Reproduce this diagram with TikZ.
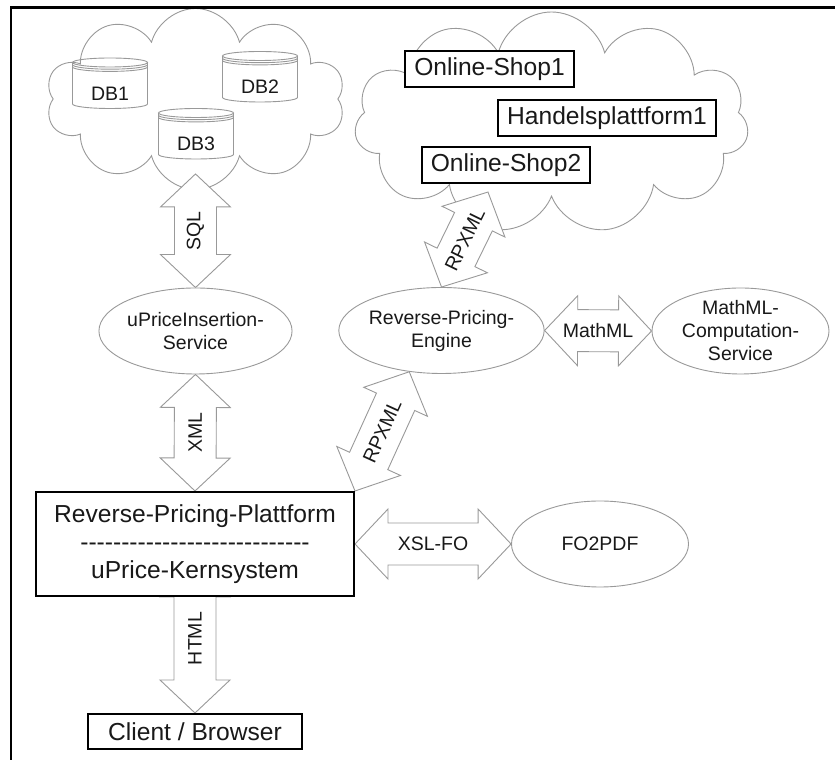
\documentclass[tikz,border=0pt]{standalone}
\usepackage{fontspec}
\setmainfont{Liberation Sans}
\usetikzlibrary{shapes.geometric, shapes.symbols, calc, backgrounds}
\definecolor{LineGray}{rgb}{0.6, 0.6, 0.6}
\definecolor{InkBlack}{rgb}{0.1, 0.1, 0.1}
\pgfdeclarelayer{cloudlayer}
\pgfdeclarelayer{arrowlayer}
\pgfsetlayers{cloudlayer,arrowlayer,main}
\newcommand{\dbase}[4]{% name, x, y, label
    \node[dbtext] (#1) at (#2,#3) {#4};
    \draw[dbline] ([shift={(-37.5,31)}]#1.center) -- ([shift={(-37.5,-10.5)}]#1.center)
        arc[start angle=180, end angle=360, x radius=37.5, y radius=4.5]
        -- ([shift={(37.5,31)}]#1.center);
    \draw[dbline] ([yshift=31pt]#1.center) ellipse[x radius=37.5, y radius=4.5];
    \foreach \dy in {2.2,4.4}
        \draw[dbline] ([shift={(-37.5,31-\dy)}]#1.center)
            arc[start angle=180, end angle=360, x radius=37.5, y radius=4.5];
}
\newcommand{\flowarrow}[3]{% von, nach, beschriftung
    \begin{pgfonlayer}{arrowlayer}
    \draw[flowline] let \p1=(#1), \p2=(#2),
            \n1={atan2(\y2-\y1,\x2-\x1)}, \n2={veclen(\x2-\x1,\y2-\y1)} in
        {[shift={(\p1)}, rotate=\n1]
        (0,0) -- (33,35) -- (33,21) -- (\n2-33,21) -- (\n2-33,35) -- (\n2,0)
        -- (\n2-33,-35) -- (\n2-33,-21) -- (33,-21) -- (33,-35) -- cycle
        (\n2/2,0) node[flowlabel, rotate=\n1] {#3}};
    \end{pgfonlayer}
}

\begin{document}
\begin{tikzpicture}[x=1pt, y=1pt, font=\fontsize{19.5}{23}\selectfont, text=InkBlack,
    bigfont/.style={font=\fontsize{24.6}{28}\selectfont},
    wolke/.style={cloud, cloud ignores aspect, draw=LineGray, line width=0.9pt, fill=white, inner sep=0pt},
    dbtext/.style={minimum width=75pt, inner sep=0pt},
    dbline/.style={draw=LineGray, line width=0.9pt},
    dienst/.style={ellipse, draw=LineGray, line width=0.9pt, fill=white, align=center,
        minimum width=177pt, minimum height=86pt, inner sep=0pt},
    kasten/.style={draw=black, line width=2pt, fill=white, bigfont, align=center,
        inner xsep=9pt, minimum height=36pt},
    flowline/.style={draw=LineGray, line width=0.9pt, fill=white, line join=miter},
    flowlabel/.style={inner sep=0pt, text=InkBlack}]

\useasboundingbox (0,0) rectangle (835,760);
\draw[line width=2.5pt] (835,752.5) -- (11,752.5) -- (11,0);

% Wolken
\begin{pgfonlayer}{cloudlayer}
\node[wolke, minimum width=299pt, minimum height=181pt, cloud puffs=10] (dbcloud) at (195.5,661) {};
\node[wolke, minimum width=394pt, minimum height=222pt, cloud puffs=11] (shopcloud) at (551.5,637) {};
\end{pgfonlayer}

\dbase{db1}{110}{666.5}{DB1}
\dbase{db2}{260}{673}{DB2}
\dbase{db3}{196}{616}{DB3}

\node[kasten] (shop1) at (489.5,690.5) {Online-Shop1};
\node[kasten] (handel) at (607,642) {Handelsplattform1};
\node[kasten] (shop2) at (506,594.5) {Online-Shop2};

% Dienste
\node[dienst] (insert) at (195.5,429) {uPriceInsertion-\\Service};
\node[dienst] (engine) at (441.5,429.5) {Reverse-Pricing-\\Engine};
\node[dienst] (mathml) at (740.5,429) {MathML-\\Computation-\\Service};
\node[dienst] (fopdf) at (600,216) {FO2PDF};

\node[kasten, minimum width=318pt, minimum height=104pt] (kern) at (195,216)
    {Reverse-Pricing-Plattform\\
     -{}-{}-{}-{}-{}-{}-{}-{}-{}-{}-{}-{}-{}-{}-{}-{}-{}-{}-{}-{}-{}-{}-{}-{}-{}-{}-{}-{}\\
     uPrice-Kernsystem};
\node[kasten, minimum width=214pt, minimum height=35pt] (client) at (195,28.5) {Client / Browser};

% Verbindungen
\flowarrow{insert.north}{[yshift=16pt]dbcloud.south}{SQL}
\flowarrow{kern.north}{insert.south}{XML}
\flowarrow{client.north}{[yshift=33pt]kern.south}{HTML}
\flowarrow{kern.east}{fopdf.west}{XSL-FO}
\flowarrow{engine.east}{mathml.west}{MathML}
\flowarrow{kern.north east}{engine.232}{RPXML}
\flowarrow{engine.north}{[shift={(-63.5,-69)}]shopcloud.center}{RPXML}

\end{tikzpicture}
\end{document}
